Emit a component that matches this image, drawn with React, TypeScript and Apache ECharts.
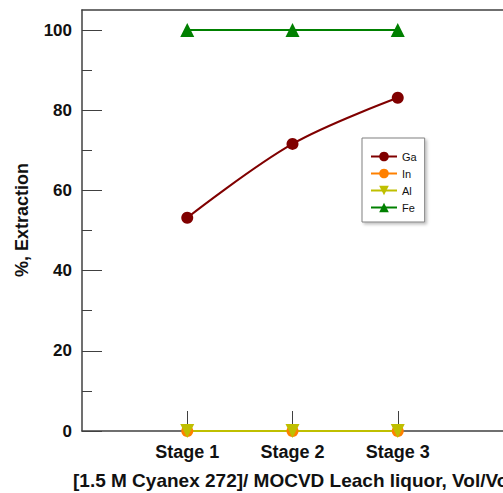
import React, { useEffect, useRef } from "react";
import * as echarts from "echarts";

const stagePositions = [1, 2, 3];
const stageLabels = ["Stage 1", "Stage 2", "Stage 3"];
const gaValues = [53.2, 71.6, 83.1];
const inValues = [0, 0, 0];
const alValues = [0, 0, 0];
const feValues = [100, 100, 100];
const yMajorTicks = [0, 20, 40, 60, 80, 100];
const yMinorTicks = [10, 30, 50, 70, 90];
const xTitle = "[1.5 M Cyanex 272]/ MOCVD Leach liquor, Vol/Vol";
const yTitle = "%, Extraction";

const pts = (vals: number[]) => stagePositions.map((x, i) => [x, vals[i]]);

export default function App() {
  const ref = useRef<HTMLDivElement>(null);
  useEffect(() => {
    if (!ref.current) return;
    const chart = echarts.init(ref.current, null, { renderer: "svg" });
    const axisColor = "#404040";
    const font = "'Liberation Sans', Arial, sans-serif";
    chart.setOption({
      animation: false,
      backgroundColor: "#ffffff",
      grid: { left: 82, top: 10, width: 421, height: 421, containLabel: false, outerBoundsMode: "none" },
      xAxis: [
        {
          type: "value",
          min: 0,
          max: 4,
          interval: 1,
          axisLine: { show: true, lineStyle: { color: axisColor, width: 1.5 } },
          axisTick: { show: true, inside: true, length: 20, customValues: stagePositions, lineStyle: { color: axisColor, width: 1 } },
          axisLabel: {
            show: true,
            customValues: stagePositions,
            formatter: (v: number) => stageLabels[stagePositions.indexOf(v)] ?? "",
            color: "#111",
            fontFamily: font,
            fontWeight: "bold",
            fontSize: 18,
            margin: 12,
          },
          splitLine: { show: false },
        },
        {
          type: "value",
          position: "top",
          min: 0,
          max: 4,
          axisLine: { show: true, onZero: false, lineStyle: { color: axisColor, width: 1.5 } },
          axisTick: { show: false },
          axisLabel: { show: false },
          splitLine: { show: false },
        },
      ],
      yAxis: [
        {
          type: "value",
          min: 0,
          max: 105,
          interval: 20,
          axisLine: { show: true, lineStyle: { color: axisColor, width: 1.5 } },
          axisTick: { show: true, inside: true, length: 20, customValues: yMajorTicks, lineStyle: { color: axisColor, width: 1 } },
          axisLabel: {
            show: true,
            customValues: yMajorTicks,
            color: "#111",
            fontFamily: font,
            fontWeight: "bold",
            fontSize: 17,
            margin: 10,
          },
          splitLine: { show: false },
        },
        {
          type: "value",
          min: 0,
          max: 105,
          position: "left",
          axisLine: { show: false },
          axisTick: { show: true, inside: true, length: 10, customValues: yMinorTicks, lineStyle: { color: axisColor, width: 1 } },
          axisLabel: { show: false },
          splitLine: { show: false },
        },
        {
          type: "value",
          min: 0,
          max: 105,
          position: "right",
          axisLine: { show: true, lineStyle: { color: "#b0b0b0", width: 1 } },
          axisTick: { show: false },
          axisLabel: { show: false },
          splitLine: { show: false },
        },
      ],
      legend: {
        orient: "vertical",
        left: 362,
        top: 138,
        width: 65,
        padding: [13, 8, 9, 8],
        itemGap: 6,
        itemWidth: 26,
        itemHeight: 12,
        backgroundColor: "#ffffff",
        borderColor: "#808080",
        borderWidth: 1,
        shadowColor: "rgba(0,0,0,0.25)",
        shadowBlur: 3,
        shadowOffsetX: 2,
        shadowOffsetY: 2,
        textStyle: { fontFamily: font, fontSize: 11, color: "#111" },
        data: ["Ga", "In", "Al", "Fe"],
      },
      graphic: [
        {
          type: "text",
          x: 22,
          y: 220,
          rotation: Math.PI / 2,
          style: {
            text: yTitle,
            fontFamily: font,
            fontWeight: "bold",
            fontSize: 18,
            fill: "#111",
            align: "center",
            verticalAlign: "middle",
          },
        },
        {
          type: "text",
          x: 73,
          y: 480,
          style: {
            text: xTitle,
            fontFamily: font,
            fontWeight: "bold",
            fontSize: 19,
            fill: "#111",
            align: "left",
            verticalAlign: "middle",
          },
        },
      ],
      series: [
        {
          name: "Ga",
          type: "line",
          smooth: 0.35,
          data: pts(gaValues),
          symbol: "circle",
          symbolSize: 12,
          color: "#800000",
          lineStyle: { width: 2, color: "#800000" },
          itemStyle: { color: "#800000" },
        },
        {
          name: "In",
          type: "line",
          data: pts(inValues),
          symbol: "circle",
          symbolSize: 12,
          color: "#FF8000",
          lineStyle: { width: 2, color: "#FF8000" },
          itemStyle: { color: "#FF8000" },
        },
        {
          name: "Al",
          type: "line",
          data: pts(alValues),
          symbol: "triangle",
          symbolRotate: 180,
          symbolSize: 14,
          color: "#BFBF00",
          lineStyle: { width: 2, color: "#BFBF00" },
          itemStyle: { color: "#BFBF00" },
        },
        {
          name: "Fe",
          type: "line",
          data: pts(feValues),
          symbol: "triangle",
          symbolSize: 14,
          color: "#008000",
          lineStyle: { width: 2, color: "#008000" },
          itemStyle: { color: "#008000" },
        },
      ],
    });
    return () => chart.dispose();
  }, []);
  return (
    <div
      ref={ref}
      style={{ position: "fixed", left: 0, top: 0, width: 503, height: 493, background: "#fff" }}
    />
  );
}
